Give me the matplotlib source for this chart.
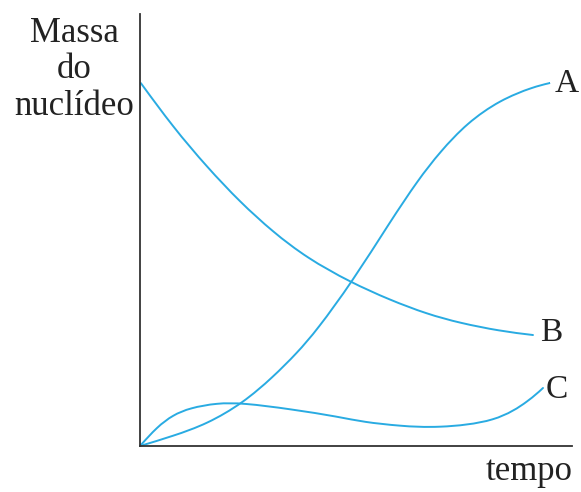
import matplotlib
matplotlib.use("Agg")
import matplotlib.pyplot as plt
from matplotlib.path import Path
from matplotlib.patches import PathPatch

# curves (time, mass), both in 0-100 units
a_t = [0, 7.64, 15.51, 23.84, 30.79, 36.34, 40.97, 49.07, 57.87, 64.35, 69.44, 75.69, 83.33, 90.97, 94.91]
a_m = [0, 2.31, 5.09, 9.95, 15.97, 21.53, 26.85, 37.96, 51.85, 61.57, 68.06, 74.77, 80.09, 83.10, 84.03]

b_t = [0.2, 7.64, 15.51, 23.15, 30.79, 38.66, 48.61, 57.87, 66.44, 74.07, 83.33, 90.97]
b_m = [84.0, 73.84, 64.58, 56.48, 49.54, 43.52, 37.96, 33.80, 30.56, 28.47, 26.62, 25.69]

c_t = [0, 3.94, 7.64, 11.57, 17.82, 23.84, 34.72, 46.30, 51.62, 60.19, 68.75, 82.64, 90.28, 93.29]
c_m = [0, 4.40, 7.18, 8.80, 9.95, 9.95, 8.56, 6.71, 5.56, 4.63, 4.17, 5.56, 10.65, 13.43]

labels = ["A", "B", "C"]
blue = "#29abe2"
W, H = 581, 492


def smooth_path(xs, ys):
    # cubic b-spline on the read points (ends clamped), as bezier pieces
    p = list(zip(xs, ys))
    q = [p[0], p[0]] + p + [p[-1], p[-1]]
    verts = [p[0]]
    codes = [Path.MOVETO]
    for j in range(len(q) - 3):
        q0, q1, q2, q3 = q[j:j + 4]
        c1 = ((2 * q1[0] + q2[0]) / 3, (2 * q1[1] + q2[1]) / 3)
        c2 = ((q1[0] + 2 * q2[0]) / 3, (q1[1] + 2 * q2[1]) / 3)
        e = ((q1[0] + 4 * q2[0] + q3[0]) / 6, (q1[1] + 4 * q2[1] + q3[1]) / 6)
        verts += [c1, c2, e]
        codes += [Path.CURVE4] * 3
    return Path(verts, codes)


plt.rcParams["font.family"] = ["Liberation Serif", "DejaVu Serif"]
fig = plt.figure(figsize=(W / 100, H / 100), dpi=100)
ax = fig.add_axes([140 / W, (H - 446) / H, (572 - 140) / W, (446 - 14) / H])
ax.set_xlim(0, 100)
ax.set_ylim(0, 100)

for xs, ys in [(a_t, a_m), (b_t, b_m), (c_t, c_m)]:
    ax.add_patch(PathPatch(smooth_path(xs, ys), fill=False, edgecolor=blue,
                           lw=1.4, capstyle="round", clip_on=False))

for s in ["top", "right"]:
    ax.spines[s].set_visible(False)
for s in ["left", "bottom"]:
    ax.spines[s].set_color("#333333")
    ax.spines[s].set_linewidth(1.3)
ax.set_xticks([])
ax.set_yticks([])

# curve labels next to the line ends
label_pos = [(567, 84), (551, 333), (557, 390)]
for lab, (px, py) in zip(labels, label_pos):
    fig.text(px / W, 1 - py / H, lab, fontsize=24, color="#222222",
             ha="center", va="center")

fig.text(74 / W, 1 - 70 / H, "Massa\ndo\nnuclídeo", fontsize=25, color="#222222",
         ha="center", va="center", linespacing=1.15)
fig.text(529 / W, 1 - 472 / H, "tempo", fontsize=25, color="#222222",
         ha="center", va="center")

fig.savefig("out.png", dpi=100, facecolor="white")
